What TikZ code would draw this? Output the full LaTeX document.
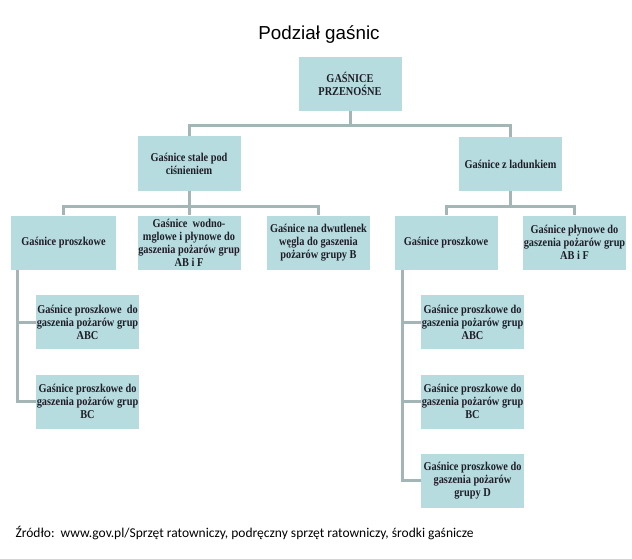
\documentclass[tikz,border=0pt]{standalone}
\usepackage{fontspec}
\setmainfont{Liberation Serif}
\newfontfamily\titlefont{Liberation Sans}
\newfontfamily\notefont{Carlito}
\newfontfamily\boxfont{Liberation Serif}[FakeStretch=0.86]
\usepackage{tikz}
\definecolor{boxfill}{HTML}{B7DCE0}
\definecolor{linkgray}{HTML}{A3B5B5}
\definecolor{boxtext}{HTML}{1E1E28}
\tikzset{
    box/.style={rectangle, fill=boxfill, minimum width=103pt, minimum height=54pt,
    	inner sep=0pt, align=center, text=boxtext,
    	font=\boxfont\bfseries\fontsize{12}{13}\selectfont}
}
\tikzset{
    link/.style={draw=linkgray, line width=3pt}
}

\begin{document}
\begin{tikzpicture}[x=1pt, y=-1pt]
	\useasboundingbox (0,0) rectangle (632,559);
	\node (title) [anchor=base] at (319,40) {\titlefont\fontsize{18.8}{22}\selectfont Podział gaśnic};

	\node (root) [box] at (350,84) {GAŚNICE\\PRZENOŚNE};
	\node (stale) [box] at (189,163.5) {Gaśnice stale pod\\ciśnieniem};
	\node (ladunek) [box] at (510.5,164) {Gaśnice z ladunkiem};

	\node (sp) [box, minimum width=105pt] at (63.5,242.5) {Gaśnice proszkowe};
	\node (sw) [box] at (189,242.5) {Gaśnice\ \ wodno-\\mglowe i płynowe do\\gaszenia pożarów grup\\AB i F};
	\node (sc) [box] at (318.5,242.5) {Gaśnice na dwutlenek\\węgla do gaszenia\\pożarów grupy B};
	\node (lp) [box] at (446,242.5) {Gaśnice proszkowe};
	\node (lw) [box] at (574.5,242.5) {Gaśnice płynowe do\\gaszenia pożarów grup\\AB i F};

	\node (sp1) [box] at (87.5,322) {Gaśnice proszkowe\ \ do\\gaszenia pożarów grup\\ABC};
	\node (sp2) [box] at (87.5,401.5) {Gaśnice proszkowe do\\gaszenia pożarów grup\\BC};
	\node (lp1) [box] at (472.5,322) {Gaśnice proszkowe do\\gaszenia pożarów grup\\ABC};
	\node (lp2) [box] at (472.5,401.5) {Gaśnice proszkowe do\\gaszenia pożarów grup\\BC};
	\node (lp3) [box] at (472.5,480.5) {Gaśnice proszkowe do\\gaszenia pożarów\\grupy D};

	\node (source) [anchor=base west] at (12,537) {\notefont\fontsize{13.5}{16}\selectfont Źródło:\ \ www.gov.pl/Sprzęt ratowniczy, podręczny sprzęt ratowniczy, środki gaśnicze};

	% tree links
	\draw[link] (root.south) -- ++(0,14) -| (stale.north);
	\draw[link] (root.south) -- ++(0,14) -| (ladunek.north);
	\draw[link] (stale.south) -- ++(0,16) -| (sp.north);
	\draw[link] (stale.south) -- (sw.north);
	\draw[link] (stale.south) -- ++(0,16) -| (sc.north);
	\draw[link] (ladunek.south) -- ++(0,15) -| (lp.north);
	\draw[link] (ladunek.south) -- ++(0,15) -| (lw.north);

	% side links
	\draw[link] ([xshift=7]sp.south west) |- (sp2.west);
	\draw[link] ([xshift=7]sp.south west) |- (sp1.west);
	\draw[link] ([xshift=8]lp.south west) |- (lp3.west);
	\draw[link] ([xshift=8]lp.south west) |- (lp2.west);
	\draw[link] ([xshift=8]lp.south west) |- (lp1.west);
\end{tikzpicture}
\end{document}
